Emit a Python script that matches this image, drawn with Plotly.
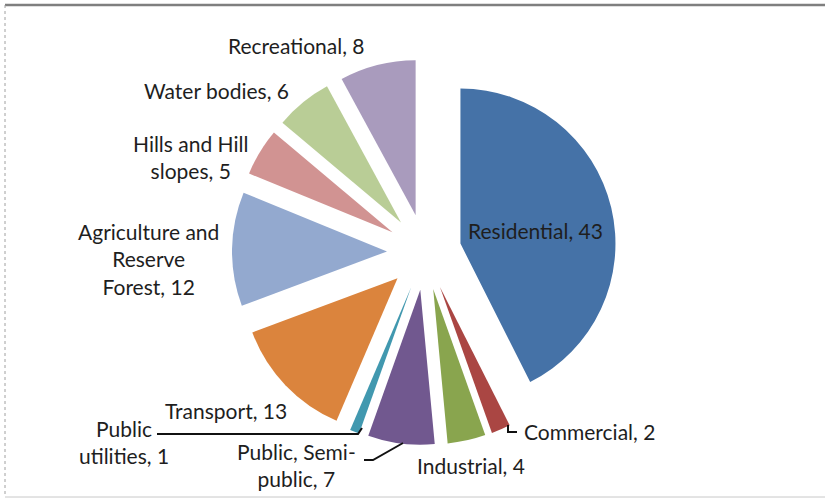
import plotly.graph_objects as go

# ---------------- data ----------------
categories = ["Residential", "Commercial", "Industrial", "Public, Semi-public",
              "Public utilities", "Transport", "Agriculture and Reserve Forest",
              "Hills and Hill slopes", "Water bodies", "Recreational"]
values = [43, 2, 4, 7, 1, 13, 12, 5, 6, 8]

# ---------------- style / layout ----------------
colors = ["#4572A7", "#AA4643", "#89A54E", "#71588F", "#4198AF",
          "#DB843D", "#93A9CF", "#D19392", "#B9CD96", "#A99BBD"]
W, H = 825, 499
FONT = "Lato, 'Liberation Sans', Arial, sans-serif"

def px(x, y):
    return x / W, 1 - y / H

# label centres (pixels) and where each label wraps
label_pos = [(535, 231), (589, 432), (471, 466), (296, 466), (124, 443),
             (226, 411), (148, 260), (190, 158), (216, 92), (296, 47)]
label_breaks = [[], [], [], ["Semi-"], ["Public "], [],
                ["Agriculture and ", "Reserve "], ["Hills and Hill "], [], []]
LDX, LDY = 0, -1

# pie placement: centre and half-size of domain in pixels
cx, cy, half = 425, 252, 193
pulls = [0.235, 0.245, 0.245, 0.245, 0.245, 0.245, 0.245, 0.245, 0.245, 0.245]

fig = go.Figure(go.Pie(
    labels=categories, values=values, sort=False, direction="clockwise",
    rotation=0, pull=pulls, textinfo="none", hoverinfo="label+value",
    marker=dict(colors=colors, line=dict(width=0)),
    domain=dict(x=[(cx - half) / W, (cx + half) / W],
                y=[1 - (cy + half) / H, 1 - (cy - half) / H]),
    showlegend=False,
))

annotations = []
for cat, val, (lx, ly), brk in zip(categories, values, label_pos, label_breaks):
    txt = f"{cat}, {val}"
    for b in brk:
        txt = txt.replace(b, b.rstrip() + "<br>", 1)
    ax_, ay_ = px(lx + LDX, ly + LDY)
    annotations.append(dict(x=ax_, y=ay_, xref="paper", yref="paper", text=txt,
                            showarrow=False, xanchor="center", yanchor="middle",
                            align="center", font=dict(family=FONT, size=21, color="#1e1e1e")))

def path(points):
    s = ""
    for i, (x, y) in enumerate(points):
        X, Y = px(x, y)
        s += ("M" if i == 0 else " L") + f"{X:.5f},{Y:.5f}"
    return s

leaders = [
    [(157, 434), (358, 434), (362, 428)],       # Public utilities
    [(364, 460), (373, 460), (403, 443)],       # Public, Semi-public
    [(508, 425), (508, 432), (517, 432)],       # Commercial
]
shapes = [dict(type="path", xref="paper", yref="paper", path=path(p),
               line=dict(color="#111111", width=2)) for p in leaders]

# chart frame
shapes += [
    dict(type="line", xref="paper", yref="paper", x0=px(5, 0)[0], x1=1,
         y0=px(0, 5)[1], y1=px(0, 5)[1], line=dict(color="#7f7f7f", width=2.5)),
    dict(type="line", xref="paper", yref="paper", x0=px(5, 0)[0], x1=px(5, 0)[0],
         y0=px(0, 5)[1], y1=px(0, 497)[1], line=dict(color="#a0a0a0", width=1, dash="dot")),
    dict(type="line", xref="paper", yref="paper", x0=px(5, 0)[0], x1=1,
         y0=px(0, 497)[1], y1=px(0, 497)[1], line=dict(color="#c8c8c8", width=1)),
]

fig.update_layout(
    width=W, height=H, margin=dict(l=0, r=0, t=0, b=0),
    paper_bgcolor="white", plot_bgcolor="white",
    annotations=annotations, shapes=shapes,
)

fig.write_html("out.html", config={"displayModeBar": False},
               post_script="document.body.style.margin='0px';document.body.style.overflow='hidden';")
